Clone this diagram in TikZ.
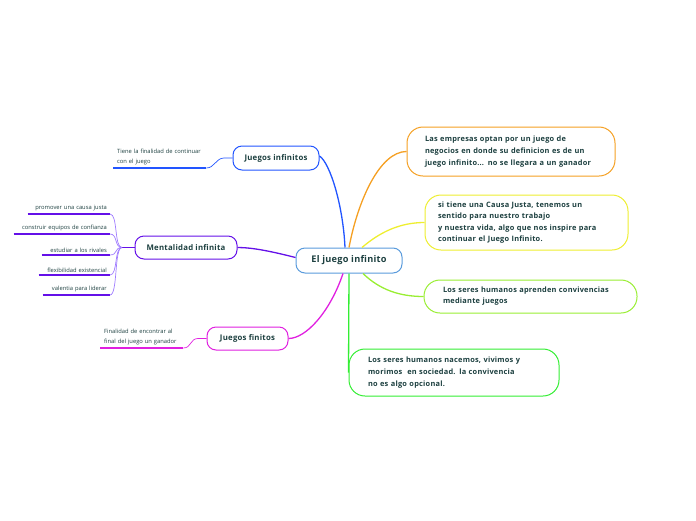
\documentclass[tikz,border=0pt]{standalone}
\usepackage{fontspec}
\setmainfont{Open Sans}
\newfontfamily\spaced{Open Sans}[LetterSpace=3]
\usetikzlibrary{positioning}
\definecolor{txt}{HTML}{1D4040}
\definecolor{cblue}{HTML}{5A9BDC}
\definecolor{jblue}{HTML}{2255FF}
\definecolor{mpurple}{HTML}{6410E8}
\definecolor{lpurple}{HTML}{A07CFF}
\definecolor{fmag}{HTML}{E020E0}
\definecolor{corange}{HTML}{F5A023}
\definecolor{cyellow}{HTML}{EEEE30}
\definecolor{clime}{HTML}{99EE33}
\definecolor{cgreen}{HTML}{33EE33}

\begin{document}
\begin{tikzpicture}[x=1pt, y=-1pt,
    mainbox/.style={draw, line width=1pt, rounded corners=9pt, fill=white, text=txt,
      font=\spaced\fontsize{7.8}{9}\selectfont\bfseries, inner sep=0pt},
    notebox/.style={draw, line width=1pt, rounded corners=16pt, fill=white, text=txt,
      font=\spaced\fontsize{7.4}{12.3}\selectfont\bfseries, align=left, inner ysep=0pt},
    leaf/.style={text=txt, font=\fontsize{5.8}{10}\selectfont, inner ysep=2.5pt},
    branch/.style={line width=1.3pt},
    twig/.style={line width=0.7pt},
    uline/.style={line width=1.1pt}]
\useasboundingbox (0,0) rectangle (696,520);

\node[mainbox, draw=cblue, minimum width=106pt, minimum height=25pt,
  font=\spaced\fontsize{9.2}{10}\selectfont\bfseries] (cen) at (349,260.5) {El juego infinito};

\node[mainbox, draw=jblue, minimum width=86pt, minimum height=24pt] (jinf) at (276,158) {Juegos infinitos};
\node[mainbox, draw=mpurple, minimum width=102pt, minimum height=23pt] (ment) at (186,247.5) {Mentalidad infinita};
\node[mainbox, draw=fmag, minimum width=81pt, minimum height=23pt] (jfin) at (247.5,338.5) {Juegos finitos};

\node[notebox, draw=corange, minimum width=208pt, minimum height=49pt, inner xsep=18pt,
  text width=172pt] (emp) at (511,151.5)
  {Las empresas optan por un juego de\\negocios en donde su definicion es de un\\juego infinito... no se llegara a un ganador};
\node[notebox, draw=cyellow, minimum width=203pt, minimum height=55pt, inner xsep=13pt,
  text width=177pt, font=\spaced\fontsize{7.4}{11.4}\selectfont\bfseries] (causa) at (526.5,222.5)
  {si tiene una Causa Justa, tenemos un\\sentido para nuestro trabajo\\y nuestra vida, algo que nos inspire para\\continuar el Juego Infinito.};
\node[notebox, draw=clime, minimum width=213pt, minimum height=33pt, inner xsep=19pt,
  text width=175pt, font=\spaced\fontsize{7.4}{11}\selectfont\bfseries] (apr) at (530.5,296.5)
  {Los seres humanos aprenden convivencias\\mediante juegos};
\node[notebox, draw=cgreen, minimum width=210pt, minimum height=47pt, inner xsep=19pt,
  text width=172pt] (soc) at (454,372.5)
  {Los seres humanos nacemos, vivimos y\\morimos \ en sociedad. la convivencia\\no es algo opcional.};

\node[leaf, inner xsep=4pt, text width=85pt, align=left, anchor=south west] (tiene) at (113,168)
  {Tiene la finalidad de continuar\\con el juego};
\node[leaf, inner xsep=4pt, text width=75pt, align=left, anchor=south west] (final) at (100,348)
  {Finalidad de encontrar al\\final del juego un ganador};

\node[leaf, inner xsep=3pt, text width=76pt, align=right, anchor=south east] (m1) at (110,214) {promover una causa justa};
\node[leaf, inner xsep=3pt, text width=90pt, align=right, anchor=south east] (m2) at (110,234) {construir equipos de confianza};
\node[leaf, inner xsep=3pt, text width=62pt, align=right, anchor=south east] (m3) at (110,255) {estudiar a los rivales};
\node[leaf, inner xsep=3pt, text width=65pt, align=right, anchor=south east] (m4) at (110,275) {flexibilidad existencial};
\node[leaf, inner xsep=3pt, text width=61pt, align=right, anchor=south east] (m5) at (110,295) {valentia para liderar};

\coordinate (mk) at (122,247.5);
\coordinate (jk) at (224,158);
\coordinate (fk) at (198,338.5);

\draw[branch, jblue] ([xshift=-4pt]cen.north) .. controls (343,205) and (330,163) .. ([yshift=2pt]jinf.east);
\draw[branch, corange] (cen.north) .. controls (358,200) and (380,151.5) .. (emp.west);
\draw[branch, cyellow] ([xshift=13pt]cen.north) .. controls (380,232) and (400,222.5) .. (causa.west);
\draw[branch, clime] ([xshift=14pt]cen.south) .. controls (380,290) and (400,296.5) .. (apr.west);
\draw[branch, cgreen] (cen.south) -- (soc.west);
\draw[branch, fmag] ([xshift=-6pt]cen.south) .. controls (330,312) and (306,338.5) .. (jfin.east);
\draw[branch, mpurple] ([yshift=3pt]cen.west) .. controls (270,251) and (252,247.5) .. (ment.east);

\draw[uline, jblue] (tiene.south west) -- (tiene.south east);
\draw[twig, jblue] (jinf.west) -- (jk) .. controls +(-8,0) and +(8,0) .. (tiene.south east);
\draw[uline, fmag] (final.south west) -- (final.south east);
\draw[twig, fmag] (jfin.west) -- (fk) .. controls +(-8,0) and +(8,0) .. (final.south east);

\draw[branch, mpurple] (ment.west) -- (mk);
\foreach \m in {m1,m2,m3,m4,m5}{
  \draw[uline, mpurple] (\m.south west) -- (\m.south east);
  \draw[twig, lpurple] (mk) .. controls +(-8,0) and +(8,0) .. (\m.south east);
}
\end{tikzpicture}
\end{document}
